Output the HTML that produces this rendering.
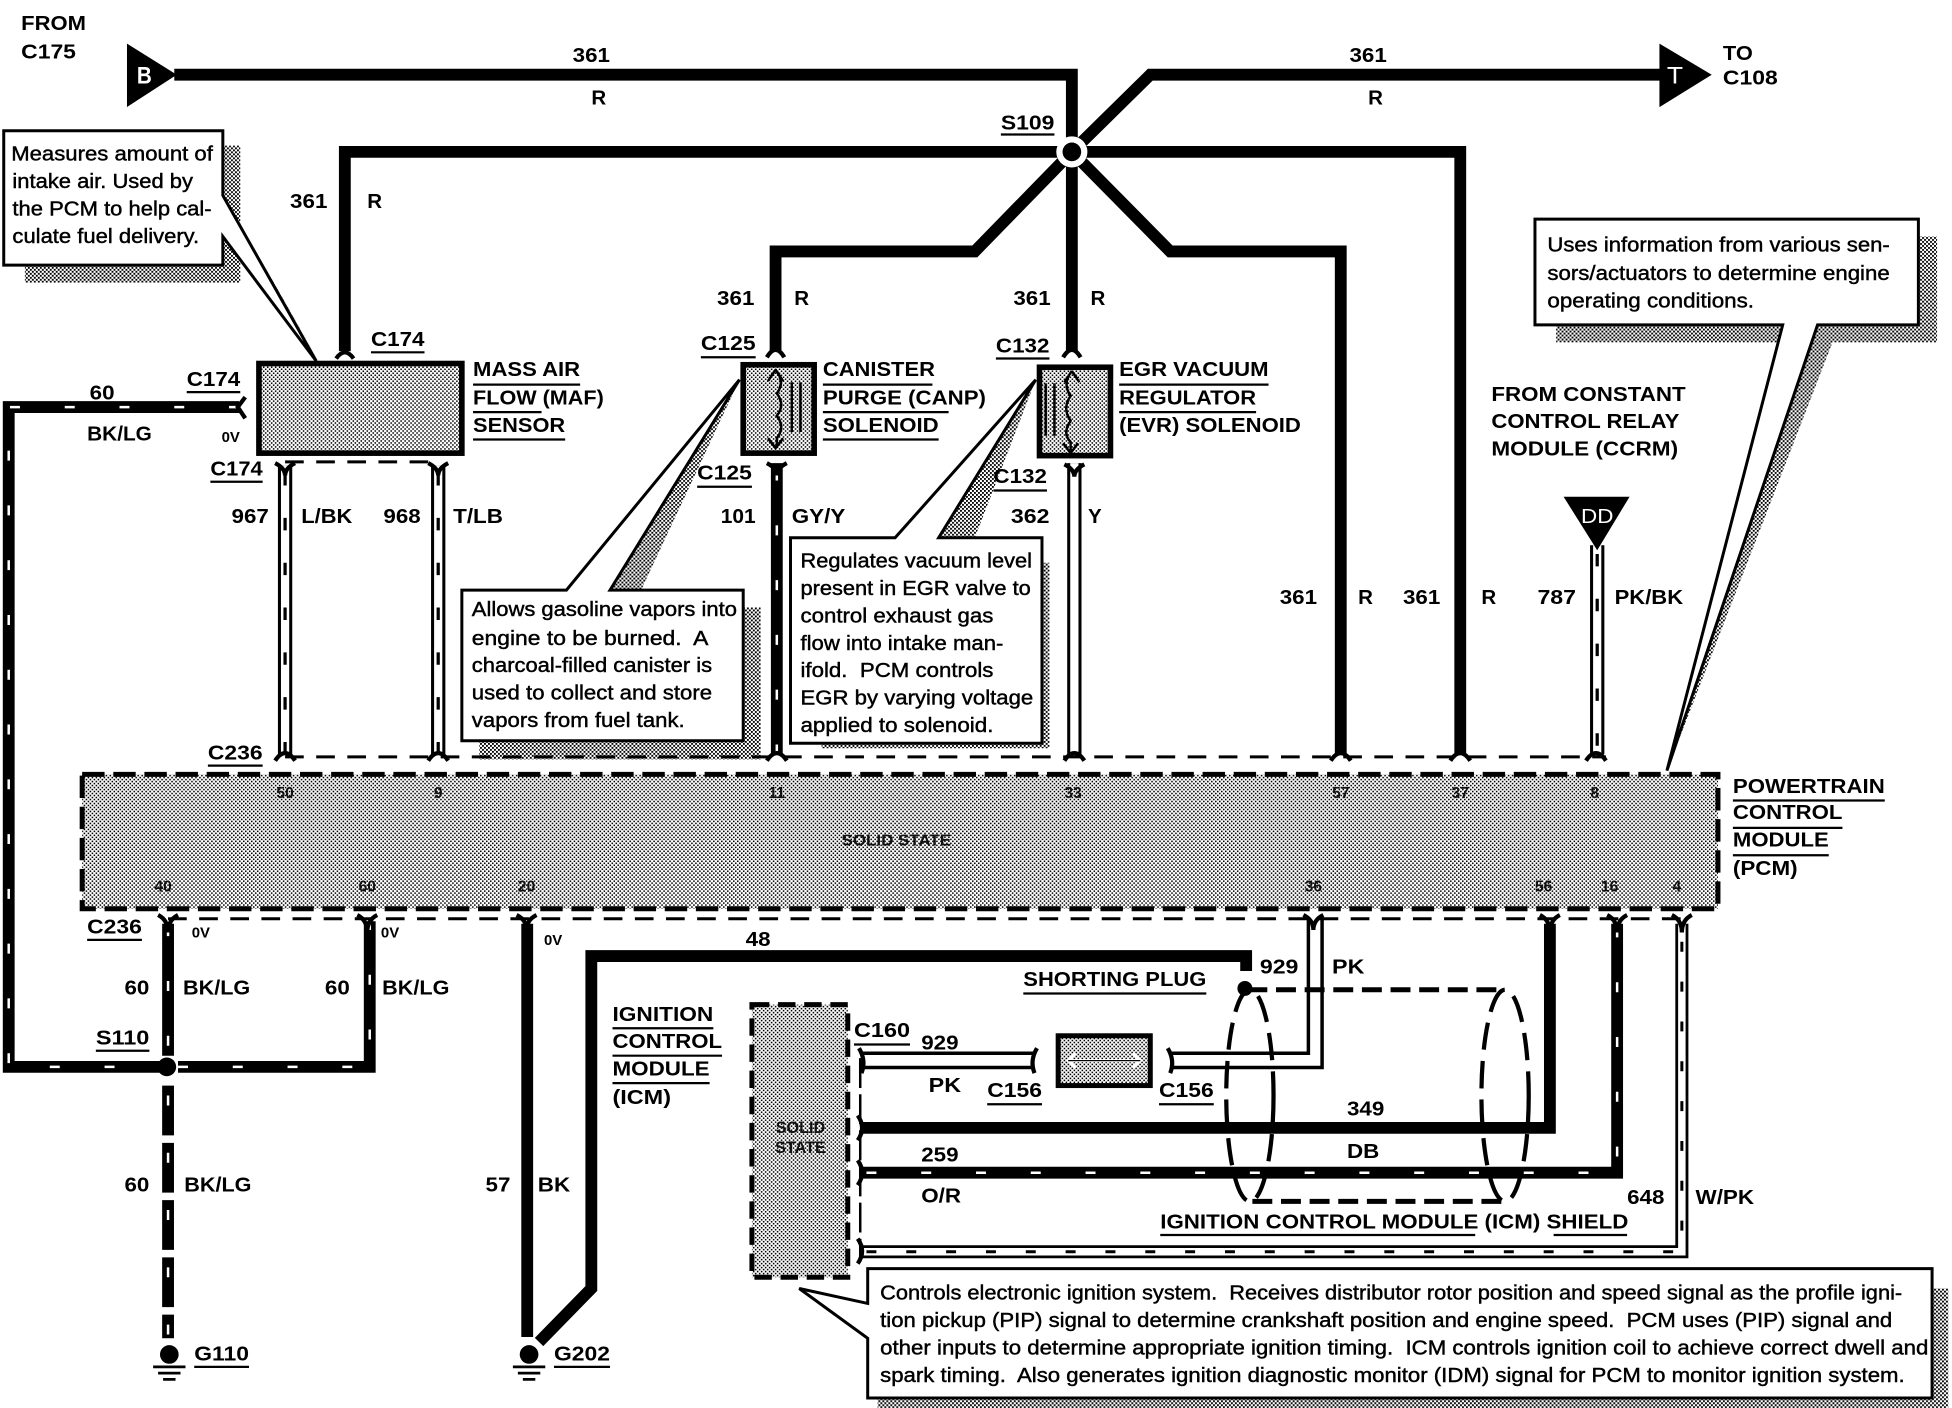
<!DOCTYPE html>
<html><head><meta charset="utf-8"><title>Wiring diagram</title>
<style>
html,body{margin:0;padding:0;background:#fff}
svg{display:block}
text{font-family:"Liberation Sans",sans-serif;white-space:pre}
.b{font-size:16.5px;font-weight:700;fill:#000}
.n{font-size:16px;fill:#000;stroke:#000;stroke-width:.35}
.s{font-size:12px;font-weight:700}
.p{font-size:12.5px;font-weight:700;fill:#111;text-anchor:middle}
.w{fill:none;stroke:#000;stroke-width:9.5;stroke-linejoin:miter}
.t{fill:none;stroke:#fff;stroke-width:2;stroke-dasharray:8 36}
.wo{fill:none;stroke:#000;stroke-width:11.5}
.wi{fill:none;stroke:#fff;stroke-width:6.6}
.wt{fill:none;stroke:#000;stroke-width:2.6;stroke-dasharray:10 26}
.f{fill:none;stroke:#000;stroke-width:3.4}
.d{fill:none;stroke:#000;stroke-width:2.4;stroke-dasharray:15 10}
.u{stroke:#000;stroke-width:1.8}
.c{fill:#fff;stroke:#000;stroke-width:2.4}
.sh{fill:url(#dz);stroke:none}
</style></head><body>
<svg xmlns="http://www.w3.org/2000/svg" width="1952" height="1408" viewBox="0 0 1568 1131" preserveAspectRatio="none">
<defs>
<pattern id="dz" width="3.2" height="3.2" patternUnits="userSpaceOnUse"><rect width="3.2" height="3.2" fill="#fff"/><rect width="1.5" height="1.5" fill="#000"/><rect x="1.6" y="1.6" width="1.5" height="1.5" fill="#000"/></pattern>
<pattern id="dl" width="3.2" height="3.2" patternUnits="userSpaceOnUse"><rect width="3.2" height="3.2" fill="#fff"/><rect width="1.25" height="1.25" fill="#000"/><rect x="1.6" y="1.6" width="1.25" height="1.25" fill="#000"/></pattern>
</defs>
<rect width="1568" height="1131" fill="#fff"/>

<!-- callout shadows -->
<path class="sh" d="M179,117H193V180L256,290L179,157Z"/>
<path class="sh" d="M179,190L193,209V227H20V213H179Z"/>
<path class="sh" d="M597,488H611V610H385V595H597Z"/>
<path class="sh" d="M490,474L594,305L515,474Z"/>
<path class="sh" d="M836,452H843V601H660V597H836Z"/>
<path class="sh" d="M754,432L832,305L783,432Z"/>
<path class="sh" d="M1541,190H1556V275H1250V262H1541Z"/>
<path class="sh" d="M1460,262L1339,619L1472,275V262Z"/>
<path class="sh" d="M697,1047L642,1035L697,1060Z"/>
<path class="sh" d="M1552,1035H1565V1131H705V1124H1552Z"/>

<!-- dashed connector lines -->
<path class="d" d="M229,371H352"/>
<path class="d" d="M229,608H1290"/>
<path class="d" d="M135,738H1352"/>

<!-- PCM -->
<rect x="66" y="622" width="1314" height="108" fill="url(#dl)" stroke="#000" stroke-width="4" stroke-dasharray="18 7"/>
<text class="p" x="229" y="641">50</text><text class="p" x="352" y="641">9</text><text class="p" x="624" y="641">11</text><text class="p" x="862" y="641">33</text><text class="p" x="1077" y="641">57</text><text class="p" x="1173" y="641">37</text><text class="p" x="1281" y="641">8</text>
<text class="p" x="131" y="716">40</text><text class="p" x="295" y="716">60</text><text class="p" x="423" y="716">20</text><text class="p" x="1055" y="716">36</text><text class="p" x="1240" y="716">56</text><text class="p" x="1293" y="716">16</text><text class="p" x="1347" y="716">4</text>
<text class="p" x="720" y="679" textLength="88" lengthAdjust="spacingAndGlyphs">SOLID STATE</text>

<!-- 361 feeds -->
<polygon points="102,35 102,86 142,60" fill="#000"/>
<polygon points="1333,35 1333,86 1375,60" fill="#000"/>
<path class="w" d="M140,60H861V122"/>
<path class="w" d="M861,122L924,60H1336"/>
<path class="w" d="M861,122H277V282"/>
<path class="w" d="M861,122H1173V605"/>
<path class="w" d="M861,122L783,202H623V282"/>
<path class="w" d="M861,122V282"/>
<path class="w" d="M861,122L940,202H1077V605"/>
<circle cx="861" cy="122" r="12.5" fill="#fff"/>
<circle cx="861" cy="122" r="7.5" fill="#000"/>
<text x="110" y="67" font-size="19" font-weight="700" fill="#fff" textLength="12" lengthAdjust="spacingAndGlyphs">B</text>
<text x="1339" y="67" font-size="19" fill="#fff" textLength="13" lengthAdjust="spacingAndGlyphs">T</text>

<!-- MAF -->
<rect x="208" y="292" width="163" height="72" fill="url(#dl)" stroke="#000" stroke-width="4.5"/>

<!-- 60 BK/LG loop -->
<path class="w" d="M192,327H7V857H130"/>
<path class="t" d="M192,327H7V857H130"/>
<path class="w" d="M143,857H297V740"/>
<path class="t" d="M143,857H297V740"/>
<path class="w" d="M135,742V848"/>
<path class="t" d="M135,744V848"/>
<circle cx="134" cy="857" r="7.5" fill="#000"/>
<path d="M135,872V1075" fill="none" stroke="#000" stroke-width="9.5" stroke-dasharray="40 6"/>
<path class="t" d="M135,880V1075" style="stroke-dasharray:8 38"/>
<circle cx="136" cy="1088" r="7.5" fill="#000"/>
<path class="u" style="stroke-width:2.2" d="M123,1098H149M127,1103H145M131,1108H141" fill="none"/>
<circle cx="425" cy="1088" r="7.5" fill="#000"/>
<path class="u" style="stroke-width:2.2" d="M412,1098H438M416,1103H434M420,1108H430" fill="none"/>

<!-- 57 / 48 -->
<path class="w" d="M423.5,742V1074"/>
<path class="w" d="M1001,780V768H475V1035L433,1078"/>

<!-- tracer / light wires -->
<path class="wo" d="M229,374V606"/><path class="wi" d="M229,374V606"/><path class="wt" d="M229,380V606"/>
<path class="wo" d="M352,374V606"/><path class="wi" d="M352,374V606"/><path class="wt" d="M352,380V606"/>
<path class="w" d="M624,372V606"/><path class="t" d="M624,378V606"/>
<path class="wo" d="M863,372V606"/><path class="wi" d="M863,372V606"/>
<path class="wo" d="M1283,438V606"/><path class="wi" d="M1283,438V606"/><path class="wt" d="M1283,445V606"/>
<polygon points="1256,399 1309,399 1283,442" fill="#000"/>
<text x="1270" y="420" font-size="16" fill="#fff" textLength="26" lengthAdjust="spacingAndGlyphs">DD</text>

<!-- ICM harness -->
<rect x="604" y="807" width="77" height="219" fill="url(#dl)" stroke="#000" stroke-width="4" stroke-dasharray="14 7"/>
<text class="p" x="643" y="910" style="font-size:13px">SOLID</text><text class="p" x="643" y="926" style="font-size:13px">STATE</text>
<path d="M691,850V1010" fill="none" stroke="#000" stroke-width="2" stroke-dasharray="24 5"/>
<path d="M692,846H830M692,857.500H830" fill="none" stroke="#000" stroke-width="2.8"/>
<path d="M941,846H1051V738M941,857.500H1062V738" fill="none" stroke="#000" stroke-width="2.8"/>
<path class="w" d="M692,906H1245V742"/>
<path class="w" d="M692,942H1299V742"/><path class="t" d="M696,942H1299V742"/>
<path d="M692,1005.500H1351V742" fill="none" stroke="#000" stroke-width="10.500"/>
<path d="M692,1005.500H1351V742" fill="none" stroke="#fff" stroke-width="6"/>
<path d="M696,1005.500H1351V742" fill="none" stroke="#000" stroke-width="2.4" stroke-dasharray="8 24"/>
<rect x="850" y="832" width="74" height="40" fill="url(#dl)" stroke="#000" stroke-width="4"/>
<path d="M858,852H916M864,846L858,852L864,858M910,846L916,852L910,858" fill="none" stroke="#fff" stroke-width="2.500"/>
<path d="M858,852H916" stroke="#000" stroke-width="1"/>
<!-- shield -->
<g fill="none" stroke="#000" stroke-width="3.4" stroke-dasharray="22 9">
<ellipse cx="1004" cy="880" rx="19" ry="85"/>
<ellipse cx="1209" cy="880" rx="19" ry="85"/>
</g>
<path d="M1002,795H1208M1006,965H1210" fill="none" stroke="#000" stroke-width="4" stroke-dasharray="16 7"/>
<circle cx="1000" cy="794" r="6" fill="#000"/>

<!-- connector forks -->
<g class="f" fill="none" stroke="#000" stroke-width="3.4">
<path d="M270,288Q277,278 284,288"/><path d="M616,287Q623,275 630,287"/><path d="M854,287Q861,275 868,287"/>
<path d="M221,372Q229,376 229,382Q229,376 237,372"/><path d="M344,372Q352,376 352,382Q352,376 360,372"/>
<path d="M616,372Q624,376 624,382Q624,376 632,372"/><path d="M855,373Q863,377 863,383Q863,377 871,373"/>
<path d="M197,319L191,327L197,336"/>
<path d="M221,611Q229,599 237,611"/><path d="M344,611Q352,599 360,611"/><path d="M616,611Q624,599 632,611"/><path d="M855,611Q863,599 871,611"/><path d="M1069,611Q1077,599 1085,611"/><path d="M1165,611Q1173,599 1181,611"/><path d="M1274,611Q1282,599 1290,611"/>
<path d="M127,735Q135,739 135,749Q135,739 143,735"/><path d="M287,735Q295,739 295,749Q295,739 303,735"/><path d="M415,735Q423,739 423,747Q423,739 431,735"/><path d="M1047,735Q1055,739 1055,747Q1055,739 1063,735"/><path d="M1237,735Q1245,739 1245,749Q1245,739 1253,735"/><path d="M1291,735Q1299,739 1299,749Q1299,739 1307,735"/><path d="M1343,735Q1351,739 1351,749Q1351,739 1359,735"/>
<path d="M690,842Q696,852 692,862"/><path d="M833,842Q827,852 831,862"/><path d="M938,842Q944,852 940,862"/>
<path d="M689,896Q696,906 689,916"/><path d="M689,932Q696,942 689,952"/><path d="M689,995Q696,1005 689,1015"/>
</g>

<!-- solenoids -->
<rect x="597" y="293" width="57" height="71" fill="url(#dl)" stroke="#000" stroke-width="4.500"/>
<rect x="835" y="295" width="57" height="71" fill="url(#dl)" stroke="#000" stroke-width="4.500"/>
<path d="M623,297L617,306M623,297L629,306M623,297Q631,307 624,316Q631,325 624,334Q631,343 624,352V360M617,352L623,360L629,352M636,307V347M643,307V347" fill="none" stroke="#000" stroke-width="2"/>
<path d="M861,298L855,307M861,298L867,307M861,298Q853,308 860,318Q853,328 860,338Q853,348 860,355V363M854,356L860,364L866,356M840,308V350M847,308V350" fill="none" stroke="#000" stroke-width="2"/>

<!-- callouts -->
<path class="c" d="M3,105H179V157L254,290L179,190V213H3Z"/>
<path class="c" d="M371,474H455L594,305L490,474H597V595H371Z"/>
<path class="c" d="M635,432H719L832,305L754,432H837V597H635Z"/>
<path class="c" d="M1233,176H1541V261H1460L1339,619L1432,261H1233Z"/>
<path class="c" d="M697,1019H1552V1123H697V1075L642,1035L697,1047Z"/>

<g class="n">
<text x="9" y="129" textLength="162" lengthAdjust="spacingAndGlyphs">Measures amount of</text>
<text x="10" y="151" textLength="145" lengthAdjust="spacingAndGlyphs">intake air. Used by</text>
<text x="10" y="173" textLength="160" lengthAdjust="spacingAndGlyphs">the PCM to help cal-</text>
<text x="10" y="195" textLength="150" lengthAdjust="spacingAndGlyphs">culate fuel delivery.</text>
<text x="1243" y="202" textLength="275" lengthAdjust="spacingAndGlyphs">Uses information from various sen-</text>
<text x="1243" y="225" textLength="275" lengthAdjust="spacingAndGlyphs">sors/actuators to determine engine</text>
<text x="1243" y="247" textLength="166" lengthAdjust="spacingAndGlyphs">operating conditions.</text>
<text x="379" y="495" textLength="213" lengthAdjust="spacingAndGlyphs">Allows gasoline vapors into</text>
<text x="379" y="518" textLength="190" lengthAdjust="spacingAndGlyphs">engine to be burned.  A</text>
<text x="379" y="540" textLength="193" lengthAdjust="spacingAndGlyphs">charcoal-filled canister is</text>
<text x="379" y="562" textLength="193" lengthAdjust="spacingAndGlyphs">used to collect and store</text>
<text x="379" y="584" textLength="171" lengthAdjust="spacingAndGlyphs">vapors from fuel tank.</text>
<text x="643" y="456" textLength="186" lengthAdjust="spacingAndGlyphs">Regulates vacuum level</text>
<text x="643" y="478" textLength="185" lengthAdjust="spacingAndGlyphs">present in EGR valve to</text>
<text x="643" y="500" textLength="155" lengthAdjust="spacingAndGlyphs">control exhaust gas</text>
<text x="643" y="522" textLength="163" lengthAdjust="spacingAndGlyphs">flow into intake man-</text>
<text x="643" y="544" textLength="155" lengthAdjust="spacingAndGlyphs">ifold.  PCM controls</text>
<text x="643" y="566" textLength="187" lengthAdjust="spacingAndGlyphs">EGR by varying voltage</text>
<text x="643" y="588" textLength="155" lengthAdjust="spacingAndGlyphs">applied to solenoid.</text>
<text x="707" y="1044" textLength="821" lengthAdjust="spacingAndGlyphs">Controls electronic ignition system.  Receives distributor rotor position and speed signal as the profile igni-</text>
<text x="707" y="1066" textLength="813" lengthAdjust="spacingAndGlyphs">tion pickup (PIP) signal to determine crankshaft position and engine speed.  PCM uses (PIP) signal and</text>
<text x="707" y="1088" textLength="842" lengthAdjust="spacingAndGlyphs">other inputs to determine appropriate ignition timing.  ICM controls ignition coil to achieve correct dwell and</text>
<text x="707" y="1110" textLength="823" lengthAdjust="spacingAndGlyphs">spark timing.  Also generates ignition diagnostic monitor (IDM) signal for PCM to monitor ignition system.</text>
</g>

<g class="b">
<text x="17" y="24" textLength="52" lengthAdjust="spacingAndGlyphs">FROM</text>
<text x="17" y="47" textLength="44" lengthAdjust="spacingAndGlyphs">C175</text>
<text x="460" y="50" textLength="30" lengthAdjust="spacingAndGlyphs">361</text><text x="475" y="84">R</text>
<text x="1084" y="50" textLength="30" lengthAdjust="spacingAndGlyphs">361</text><text x="1099" y="84">R</text>
<text x="1384" y="48" textLength="24" lengthAdjust="spacingAndGlyphs">TO</text>
<text x="1384" y="68" textLength="44" lengthAdjust="spacingAndGlyphs">C108</text>
<text x="804" y="104" textLength="43" lengthAdjust="spacingAndGlyphs">S109</text>
<text x="233" y="167" textLength="30" lengthAdjust="spacingAndGlyphs">361</text><text x="295" y="167">R</text>
<text x="298" y="278" textLength="43" lengthAdjust="spacingAndGlyphs">C174</text>
<text x="150" y="310" textLength="43" lengthAdjust="spacingAndGlyphs">C174</text>
<text x="72" y="321" textLength="20" lengthAdjust="spacingAndGlyphs">60</text>
<text x="70" y="354" textLength="52" lengthAdjust="spacingAndGlyphs">BK/LG</text>
<text x="169" y="382" textLength="42" lengthAdjust="spacingAndGlyphs">C174</text>
<text x="380" y="302" textLength="86" lengthAdjust="spacingAndGlyphs">MASS AIR</text>
<text x="380" y="325" textLength="105" lengthAdjust="spacingAndGlyphs">FLOW (MAF)</text>
<text x="380" y="347" textLength="74" lengthAdjust="spacingAndGlyphs">SENSOR</text>
<text x="576" y="245" textLength="30" lengthAdjust="spacingAndGlyphs">361</text><text x="638" y="245">R</text>
<text x="814" y="245" textLength="30" lengthAdjust="spacingAndGlyphs">361</text><text x="876" y="245">R</text>
<text x="563" y="281" textLength="44" lengthAdjust="spacingAndGlyphs">C125</text>
<text x="661" y="302" textLength="90" lengthAdjust="spacingAndGlyphs">CANISTER</text>
<text x="661" y="325" textLength="131" lengthAdjust="spacingAndGlyphs">PURGE (CANP)</text>
<text x="661" y="347" textLength="93" lengthAdjust="spacingAndGlyphs">SOLENOID</text>
<text x="800" y="283" textLength="43" lengthAdjust="spacingAndGlyphs">C132</text>
<text x="899" y="302" textLength="120" lengthAdjust="spacingAndGlyphs">EGR VACUUM</text>
<text x="899" y="325" textLength="110" lengthAdjust="spacingAndGlyphs">REGULATOR</text>
<text x="899" y="347" textLength="146" lengthAdjust="spacingAndGlyphs">(EVR) SOLENOID</text>
<text x="560" y="385" textLength="44" lengthAdjust="spacingAndGlyphs">C125</text>
<text x="798" y="388" textLength="43" lengthAdjust="spacingAndGlyphs">C132</text>
<text x="186" y="420" textLength="30" lengthAdjust="spacingAndGlyphs">967</text>
<text x="242" y="420" textLength="41" lengthAdjust="spacingAndGlyphs">L/BK</text>
<text x="308" y="420" textLength="30" lengthAdjust="spacingAndGlyphs">968</text>
<text x="364" y="420" textLength="40" lengthAdjust="spacingAndGlyphs">T/LB</text>
<text x="579" y="420" textLength="28" lengthAdjust="spacingAndGlyphs">101</text>
<text x="636" y="420" textLength="43" lengthAdjust="spacingAndGlyphs">GY/Y</text>
<text x="812" y="420" textLength="31" lengthAdjust="spacingAndGlyphs">362</text>
<text x="874" y="420">Y</text>
<text x="1028" y="485" textLength="30" lengthAdjust="spacingAndGlyphs">361</text><text x="1091" y="485">R</text>
<text x="1127" y="485" textLength="30" lengthAdjust="spacingAndGlyphs">361</text><text x="1190" y="485">R</text>
<text x="1235" y="485" textLength="31" lengthAdjust="spacingAndGlyphs">787</text>
<text x="1297" y="485" textLength="55" lengthAdjust="spacingAndGlyphs">PK/BK</text>
<text x="1198" y="322" textLength="156" lengthAdjust="spacingAndGlyphs">FROM CONSTANT</text>
<text x="1198" y="344" textLength="151" lengthAdjust="spacingAndGlyphs">CONTROL RELAY</text>
<text x="1198" y="366" textLength="150" lengthAdjust="spacingAndGlyphs">MODULE (CCRM)</text>
<text x="1392" y="637" textLength="122" lengthAdjust="spacingAndGlyphs">POWERTRAIN</text>
<text x="1392" y="658" textLength="88" lengthAdjust="spacingAndGlyphs">CONTROL</text>
<text x="1392" y="680" textLength="77" lengthAdjust="spacingAndGlyphs">MODULE</text>
<text x="1392" y="703" textLength="52" lengthAdjust="spacingAndGlyphs">(PCM)</text>
<text x="167" y="610" textLength="44" lengthAdjust="spacingAndGlyphs">C236</text>
<text x="70" y="750" textLength="44" lengthAdjust="spacingAndGlyphs">C236</text>
<text x="100" y="799" textLength="20" lengthAdjust="spacingAndGlyphs">60</text>
<text x="147" y="799" textLength="54" lengthAdjust="spacingAndGlyphs">BK/LG</text>
<text x="261" y="799" textLength="20" lengthAdjust="spacingAndGlyphs">60</text>
<text x="307" y="799" textLength="54" lengthAdjust="spacingAndGlyphs">BK/LG</text>
<text x="77" y="839" textLength="43" lengthAdjust="spacingAndGlyphs">S110</text>
<text x="100" y="957" textLength="20" lengthAdjust="spacingAndGlyphs">60</text>
<text x="148" y="957" textLength="54" lengthAdjust="spacingAndGlyphs">BK/LG</text>
<text x="156" y="1093" textLength="44" lengthAdjust="spacingAndGlyphs">G110</text>
<text x="390" y="957" textLength="20" lengthAdjust="spacingAndGlyphs">57</text>
<text x="432" y="957" textLength="26" lengthAdjust="spacingAndGlyphs">BK</text>
<text x="445" y="1093" textLength="45" lengthAdjust="spacingAndGlyphs">G202</text>
<text x="599" y="760" textLength="20" lengthAdjust="spacingAndGlyphs">48</text>
<text x="1012" y="782" textLength="31" lengthAdjust="spacingAndGlyphs">929</text>
<text x="1070" y="782" textLength="26" lengthAdjust="spacingAndGlyphs">PK</text>
<text x="822" y="792" textLength="147" lengthAdjust="spacingAndGlyphs">SHORTING PLUG</text>
<text x="492" y="820" textLength="81" lengthAdjust="spacingAndGlyphs">IGNITION</text>
<text x="492" y="842" textLength="88" lengthAdjust="spacingAndGlyphs">CONTROL</text>
<text x="492" y="864" textLength="78" lengthAdjust="spacingAndGlyphs">MODULE</text>
<text x="492" y="887" textLength="47" lengthAdjust="spacingAndGlyphs">(ICM)</text>
<text x="686" y="833" textLength="45" lengthAdjust="spacingAndGlyphs">C160</text>
<text x="740" y="843" textLength="30" lengthAdjust="spacingAndGlyphs">929</text>
<text x="746" y="877" textLength="26" lengthAdjust="spacingAndGlyphs">PK</text>
<text x="793" y="881" textLength="44" lengthAdjust="spacingAndGlyphs">C156</text>
<text x="931" y="881" textLength="44" lengthAdjust="spacingAndGlyphs">C156</text>
<text x="1082" y="896" textLength="30" lengthAdjust="spacingAndGlyphs">349</text>
<text x="1082" y="930" textLength="26" lengthAdjust="spacingAndGlyphs">DB</text>
<text x="740" y="933" textLength="30" lengthAdjust="spacingAndGlyphs">259</text>
<text x="740" y="966" textLength="32" lengthAdjust="spacingAndGlyphs">O/R</text>
<text x="932" y="987" textLength="376" lengthAdjust="spacingAndGlyphs">IGNITION CONTROL MODULE (ICM) SHIELD</text>
<text x="1307" y="967" textLength="30" lengthAdjust="spacingAndGlyphs">648</text>
<text x="1362" y="967" textLength="47" lengthAdjust="spacingAndGlyphs">W/PK</text>
</g>
<g class="s">
<text x="178" y="355">0V</text><text x="154" y="753">0V</text><text x="306" y="753">0V</text><text x="437" y="759">0V</text>
</g>

<!-- underlines -->
<path class="u" d="M804,108H847M298,283H341M150,315H193M169,387H211M380,309H466M380,331H435M380,353H454M563,287H607M661,309H749M661,331H762M661,353H754M800,288H843M899,309H1019M899,331H1009M560,391H604M798,394H841M1392,643H1514M1392,665H1480M1392,687H1469M167,615H211M70,755H114M77,844H120M156,1098H200M445,1098H490M822,798H969M492,826H573M492,848H580M492,870H570M686,839H731M793,887H837M931,887H975M932,992H1185M1248,992H1307" fill="none"/>
</svg>
</body></html>
